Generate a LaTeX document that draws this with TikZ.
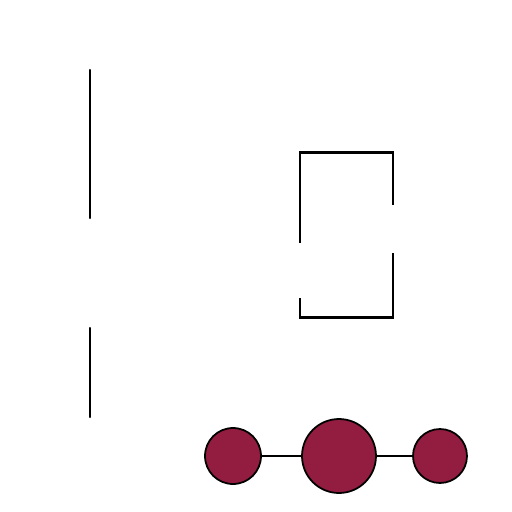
\documentclass[tikz,border=0pt]{standalone}
\usepackage{tikz}
\definecolor{bead}{RGB}{146,29,64}
\tikzset{
  bal/.style={draw,circle,fill=bead,line width=1pt,inner sep=0pt},
  stick/.style={line width=1.2pt,line cap=round},
  frame/.style={line width=1.7pt}
}
\begin{document}
\begin{tikzpicture}[x=0.02cm,y=-0.02cm]
        \useasboundingbox (0,0) rectangle (512,512);
        % палка
        \draw[stick] (90,70) -- (90,218);
        \draw[stick] (90,328) -- (90,417);

        % рамка
        \draw[frame] (300,243) -- (300,152) -- (393,152) -- (393,205);
        \draw[frame] (300,298) -- (300,317) -- (393,317) -- (393,253);

        % бусины
        \node[bal,minimum size=1.12cm] (l) at (233,456) {};
        \node[bal,minimum size=1.48cm] (m) at (339,456) {};
        \node[bal,minimum size=1.08cm] (r) at (440,456) {};
        \draw[line width=1.2pt] (l) -- (m);
        \draw[line width=1.2pt] (m) -- (r);
    \end{tikzpicture}
\end{document}
